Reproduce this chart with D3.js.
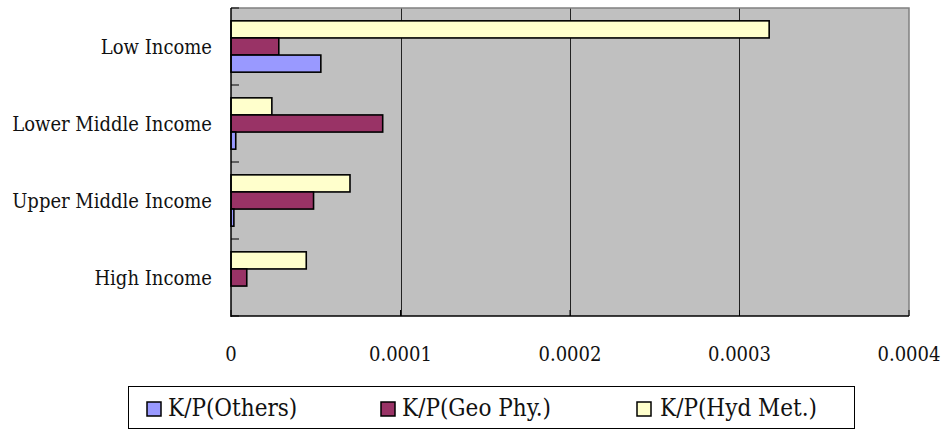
<!DOCTYPE html>
<html>
<head>
<meta charset="utf-8">
<script src="https://cdn.jsdelivr.net/npm/d3@7"></script>
<style>
  html, body { margin: 0; padding: 0; background: #fff; }
  svg { display: block; }
  text { font-family: "DejaVu Serif Condensed", "DejaVu Serif", serif; font-stretch: condensed; fill: #111; }
</style>
</head>
<body>
<svg id="chart" width="941" height="429"></svg>
<script>
// Income groups, listed top to bottom
const categories = ["Low Income", "Lower Middle Income", "Upper Middle Income", "High Income"];
// Series, listed in the order their bars sit inside each group (top to bottom)
const seriesNames = ["K/P(Hyd Met.)", "K/P(Geo Phy.)", "K/P(Others)"];
// Legend order
const legendOrder = ["K/P(Others)", "K/P(Geo Phy.)", "K/P(Hyd Met.)"];
const hydMet  = [0.0003175, 0.0000241, 0.0000702, 0.0000444];
const geoPhy  = [0.0000282, 0.0000895, 0.0000487, 0.0000093];
const others  = [0.0000530, 0.0000028, 0.0000017, 0.0000000];
const xTicks  = [0, 0.0001, 0.0002, 0.0003, 0.0004];
const xTickLabels = ["0", "0.0001", "0.0002", "0.0003", "0.0004"];

const colors = {
  "K/P(Others)": "#9999FF",
  "K/P(Geo Phy.)": "#993366",
  "K/P(Hyd Met.)": "#FFFFCC"
};
const valuesBySeries = {
  "K/P(Hyd Met.)": hydMet,
  "K/P(Geo Phy.)": geoPhy,
  "K/P(Others)": others
};

const svg = d3.select("#chart");
const plot = { left: 231, right: 909, top: 8, bottom: 316 };

const x = d3.scaleLinear().domain([0, 0.0004]).range([plot.left, plot.right]);
const y = d3.scaleBand().domain(categories).range([plot.top, plot.bottom]).paddingInner(0).paddingOuter(0);
const ySub = d3.scaleBand().domain(seriesNames).range([0, y.bandwidth()]).paddingInner(0).paddingOuter(0.75);

// plot background
svg.append("rect")
  .attr("x", plot.left).attr("y", plot.top)
  .attr("width", plot.right - plot.left).attr("height", plot.bottom - plot.top)
  .attr("fill", "#C0C0C0");

// vertical gridlines
svg.append("g")
  .selectAll("line")
  .data(xTicks.filter(v => v > 0 && v < 0.0004))
  .join("line")
  .attr("x1", d => Math.round(x(d)) + 0.5).attr("x2", d => Math.round(x(d)) + 0.5)
  .attr("y1", plot.top).attr("y2", plot.bottom)
  .attr("stroke", "#222").attr("stroke-width", 1);

// plot frame: top and right in grey
svg.append("path")
  .attr("d", `M${plot.left},${plot.top}H${plot.right}V${plot.bottom}`)
  .attr("fill", "none").attr("stroke", "#808080").attr("stroke-width", 1.5);

// bars
const rows = [];
categories.forEach((c, i) => {
  seriesNames.forEach(s => rows.push({ cat: c, series: s, value: valuesBySeries[s][i] }));
});
svg.append("g")
  .selectAll("rect")
  .data(rows.filter(d => d.value > 0))
  .join("rect")
  .attr("x", x(0))
  .attr("y", d => y(d.cat) + ySub(d.series))
  .attr("width", d => x(d.value) - x(0))
  .attr("height", ySub.bandwidth())
  .attr("fill", d => colors[d.series])
  .attr("stroke", "#000")
  .attr("stroke-width", 1.6);

// y axis with inward ticks at category boundaries
const yAxisG = svg.append("g");
yAxisG.append("line")
  .attr("x1", plot.left).attr("x2", plot.left)
  .attr("y1", plot.top).attr("y2", plot.bottom + 1)
  .attr("stroke", "#000").attr("stroke-width", 1.5);
const boundaries = categories.map(c => y(c)).concat([plot.bottom]);
yAxisG.selectAll("line.tick")
  .data(boundaries)
  .join("line")
  .attr("class", "tick")
  .attr("x1", plot.left).attr("x2", plot.left + 8)
  .attr("y1", d => d).attr("y2", d => d)
  .attr("stroke", "#000").attr("stroke-width", 1);
yAxisG.selectAll("text")
  .data(categories)
  .join("text")
  .attr("x", 212)
  .attr("y", d => y(d) + y.bandwidth() / 2)
  .attr("dy", "0.35em")
  .attr("text-anchor", "end")
  .attr("font-size", 20)
  .text(d => d);

// x axis
const xAxisG = svg.append("g");
xAxisG.append("line")
  .attr("x1", plot.left).attr("x2", plot.right)
  .attr("y1", plot.bottom).attr("y2", plot.bottom)
  .attr("stroke", "#000").attr("stroke-width", 1.5);
xAxisG.selectAll("line.tick")
  .data(xTicks)
  .join("line")
  .attr("class", "tick")
  .attr("x1", d => x(d)).attr("x2", d => x(d))
  .attr("y1", plot.bottom - 6).attr("y2", plot.bottom)
  .attr("stroke", "#000").attr("stroke-width", 1);
xAxisG.selectAll("text")
  .data(xTicks)
  .join("text")
  .attr("x", d => x(d))
  .attr("y", 361)
  .attr("text-anchor", "middle")
  .attr("font-size", 20)
  .text((d, i) => xTickLabels[i]);

// legend
const legend = svg.append("g");
legend.append("rect")
  .attr("x", 128.5).attr("y", 386.5)
  .attr("width", 726).attr("height", 42)
  .attr("fill", "#fff").attr("stroke", "#000").attr("stroke-width", 1);
const legendX = [147, 381, 637];
const item = legend.selectAll("g.item")
  .data(legendOrder)
  .join("g")
  .attr("class", "item")
  .attr("transform", (d, i) => `translate(${legendX[i]},0)`);
item.append("rect")
  .attr("x", 0).attr("y", 402)
  .attr("width", 14).attr("height", 14)
  .attr("fill", d => colors[d])
  .attr("stroke", "#000").attr("stroke-width", 1.5);
item.append("text")
  .attr("x", (d, i) => i === 2 ? 23 : 21).attr("y", 416)
  .attr("font-size", 24)
  .text(d => d);
</script>
</body>
</html>
